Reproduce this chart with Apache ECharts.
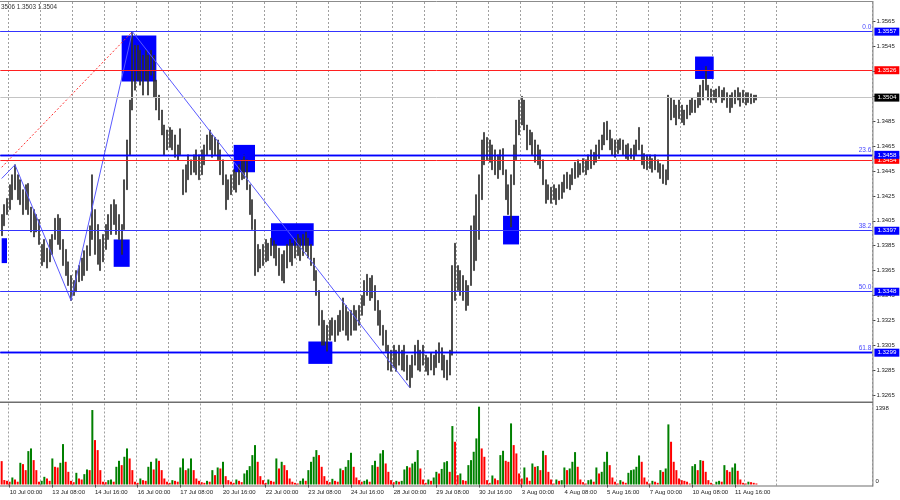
<!DOCTYPE html>
<html>
<head>
<meta charset="utf-8">
<script src="https://cdn.jsdelivr.net/npm/echarts@6/dist/echarts.min.js"></script>
<style>html,body{margin:0;padding:0;background:#fff;}#c{width:900px;height:500px;}</style>
</head>
<body>
<div id="c"></div>
<script>
// ---------- DATA ----------
// trading days shown on the H1 chart (2-hour buckets, first bucket = 9 Jul 18:00)
const days = ['9 Jul','10 Jul','13 Jul','14 Jul','15 Jul','16 Jul','17 Jul','20 Jul','21 Jul','22 Jul','23 Jul','24 Jul',
  '27 Jul','28 Jul','29 Jul','30 Jul','31 Jul','3 Aug','4 Aug','5 Aug','6 Aug','7 Aug','10 Aug','11 Aug','12 Aug','13 Aug','14 Aug','17 Aug'];

// lows / highs in pips above 1.3000 (one value per 2-hour bucket)
const lowPips = [
  393,401,410,
  414,422,430,422,418,410,414,410,396,392,396,386,
  369,372,367,372,378,390,386,382,369,361,353,341,
  345,348,356,357,361,365,377,390,378,370,365,372,
  382,390,394,402,394,390,378,398,430,458,494,510,
  518,514,506,518,506,522,504,494,486,474,458,462,
  464,462,456,454,458,426,428,438,442,444,442,438,
  442,450,458,462,456,458,454,442,434,414,422,426,
  430,428,434,438,439,430,410,398,361,364,367,369,
  372,373,377,375,369,361,357,355,367,372,369,375,
  377,373,377,380,375,369,357,345,321,305,305,300,
  309,313,308,313,316,317,313,309,313,317,317,321,
  329,337,345,341,343,333,321,313,305,300,285,284,
  287,284,289,285,284,277,271,279,289,285,284,289,
  284,281,285,281,287,291,285,279,277,281,297,341,
  349,345,341,333,337,353,365,373,390,422,450,454,
  452,446,442,439,446,442,422,410,400,434,454,474,
  482,478,462,466,458,452,450,447,434,419,422,419,
  422,418,422,423,428,431,430,434,439,440,442,444,
  442,446,447,450,452,455,462,466,470,462,458,456,
  459,462,458,455,454,455,454,458,462,450,447,446,
  447,444,446,444,439,435,434,438,486,488,482,487,
  484,482,487,490,492,492,496,498,502,510,502,500,
  502,500,504,500,502,496,492,496,499,502,497,500,
  498,500,499,500,502
];
const highPips = [
  410,418,423,
  434,442,450,442,438,430,434,435,416,414,410,406,
  386,390,383,390,394,407,410,407,390,382,372,361,
  357,365,369,375,381,385,401,442,414,402,390,394,
  402,410,418,422,418,410,402,438,470,502,557,546,
  546,542,538,542,538,542,538,518,506,494,482,478,
  480,478,474,466,479,446,450,458,454,458,462,458,
  462,466,474,478,474,472,470,462,454,442,438,442,
  446,444,450,454,458,454,434,422,406,386,382,386,
  390,387,391,389,386,383,378,381,386,390,387,391,
  394,391,394,396,391,386,375,365,349,333,325,321,
  325,327,325,329,333,343,337,332,333,337,333,337,
  345,357,362,359,361,353,341,333,321,317,305,301,
  305,301,305,301,305,297,289,297,305,309,301,305,
  297,295,299,297,301,307,303,297,293,301,369,387,
  369,365,361,357,353,401,409,426,442,470,476,472,
  470,466,462,458,462,463,446,434,442,466,486,502,
  505,502,482,478,476,470,466,462,454,438,434,432,
  434,431,434,436,442,444,442,447,452,454,451,455,
  454,458,462,460,466,470,474,484,485,478,471,470,
  470,471,470,466,467,463,466,470,480,466,459,458,
  458,455,458,454,451,450,446,506,504,502,498,502,
  498,494,498,502,504,502,508,514,518,529,514,511,
  510,511,513,510,512,508,506,508,510,512,508,510,
  508,508,507,506,506
];
// tick volume per bucket
const volumes = [
  420,80,66,50,126,90,50,390,366,258,600,648,438,258,50,
  66,138,108,66,468,318,306,390,726,408,228,66,42,210,108,
  90,186,270,258,1338,798,618,258,50,42,78,90,50,318,426,
  348,498,648,468,258,50,30,108,78,66,318,408,270,468,426,
  258,108,50,30,78,66,50,306,468,258,288,468,258,108,66,
  42,30,66,50,258,168,306,288,408,150,78,50,30,90,66,
  42,198,258,330,528,708,408,150,78,30,90,66,50,468,288,
  408,348,258,108,50,30,18,66,108,66,258,408,498,618,528,
  318,150,66,42,102,66,50,288,258,318,438,570,318,126,78,
  50,66,90,50,348,426,318,558,618,378,228,78,42,66,50,
  66,270,330,306,378,408,618,288,90,30,90,66,126,228,198,
  280,400,420,228,1050,
  768,168,198,78,66,348,438,588,828,1398,648,498,78,30,162,
  108,78,528,606,426,408,1098,708,558,198,108,306,126,66,378,
  318,330,258,606,528,228,90,18,90,66,78,306,258,288,408,
  582,318,90,42,18,78,90,50,306,198,228,408,588,348,126,
  50,18,78,50,30,210,258,270,318,522,408,126,50,18,66,
  50,30,258,228,288,1080,768,408,258,108,78,66,50,18,330,
  366,258,438,426,228,78,30,6,50,66,50,348,258,228,306,
  378,246,90,30,18,50,42,30,18
];
// zigzag turning points (bucket index, pips)
const zigzagIdx = [0, 5, 26, 49, 153];
const zigzagPips = [439, 450, 341, 557, 271];
// fibonacci base line (visible part)
const fibBaseIdx = [0, 49];
const fibBasePips = [448, 557];
// fibonacci levels
const fibNames = ['0.0', '23.6', '38.2', '50.0', '61.8'];
const fibPrices = [1.3557, 1.3458, 1.3397, 1.3348, 1.3299];
// red horizontal levels and the current bid
const redLevels = [1.3526, 1.3454];
const lastPrice = 1.3504;
// rectangles: [fromIndex, toIndex, topPips, bottomPips]
const boxes = [
  [0, 2, 391, 371], [42, 48, 390, 368], [45, 58, 554, 517], [87, 95, 466, 444],
  [101, 117, 403, 385], [115, 124, 308, 290], [188, 194, 409, 386], [260, 267, 537, 519]
];
const headerText = '3506 1.3503 1.3504';
const volMax = 1398;
const priceMin = 1.3265, priceMax = 1.3565, priceStep = 0.002;

// ---------- BUILD ----------
const N = 327;
const cats = [];
for (let i = 0; i < N; i++) {
  const d = Math.floor((i + 9) / 12), h = (18 + 2 * i) % 24;
  cats.push(days[d] + ' ' + String(h).padStart(2, '0') + ':00');
}
const hourOf = i => (18 + 2 * i) % 24;
const isDayStart = i => hourOf(i) === 0 && i <= 291;
const isLabel = i => i >= 3 && i <= 283 && (i - 3) % 16 === 0;
const px = p => +(1.3 + p / 10000).toFixed(5);

const candles = lowPips.map((l, i) => [px(l), px(highPips[i]), px(l), px(highPips[i])]);
const FONT = 'Liberation Sans, Arial, sans-serif';
const L = 0.33, R = 27.6;

const lineItems = [];
const priceLabel = (bg) => ({
  show: true, position: 'end', distance: 2, formatter: p => Number(p.value).toFixed(4),
  color: '#fff', backgroundColor: bg, fontSize: 6.2, fontFamily: FONT,
  padding: [1, 3, 0, 3], lineHeight: 7
});
lineItems.push({ yAxis: lastPrice, lineStyle: { color: '#c4c4c4', width: 1, type: 'solid' }, label: priceLabel('#000') });
redLevels.forEach(v => lineItems.push({ yAxis: v, lineStyle: { color: '#ff2020', width: 1, type: 'solid' }, label: priceLabel('#ff0000') }));
fibPrices.forEach((v, k) => {
  const strong = (fibNames[k] === '23.6' || fibNames[k] === '61.8');
  const ls = { color: strong ? '#0000ff' : '#3434ff', width: strong ? 1.4 : 1, type: 'solid' };
  lineItems.push({ yAxis: v, lineStyle: ls, label: {
    show: true, position: 'insideEndTop', distance: 1, formatter: fibNames[k],
    color: '#4848ff', fontSize: 6.5, fontFamily: FONT } });
  lineItems.push({ yAxis: v, lineStyle: ls, label: priceLabel('#0000ff') });
});

const option = {
  animation: false,
  backgroundColor: '#fff',
  title: { text: headerText, left: 1, top: 4, padding: 0,
    textStyle: { fontSize: 6.3, fontWeight: 'normal', color: '#333', fontFamily: FONT } },
  grid: [
    { left: L, right: R, top: 21.7, bottom: 105 },
    { left: L, right: R, top: 406.7, bottom: 15.5 },
    { left: L, right: R, top: 2, bottom: 98 },
    { left: L, right: R, top: 403.5, bottom: 14 }
  ],
  xAxis: [0, 1, 2, 3].map(g => ({
    type: 'category', gridIndex: g, data: cats, boundaryGap: true,
    axisLine: { show: false },
    axisTick: g === 1 ? { show: true, interval: (i) => isLabel(i), alignWithLabel: true, length: 3, lineStyle: { color: '#333' } } : { show: false },
    axisLabel: g === 1 ? { show: true, interval: (i) => isLabel(i), align: 'left', margin: 5,
      fontSize: 6, color: '#222', fontFamily: FONT } : { show: false },
    splitLine: (g >= 2) ? { show: true, interval: (i) => isDayStart(i),
      lineStyle: { color: '#a0a0a0', width: 1, type: [2, 2] } } : { show: false }
  })),
  yAxis: [
    { type: 'value', gridIndex: 0, position: 'right', min: priceMin, max: priceMax, interval: priceStep,
      axisLine: { show: false }, splitLine: { show: false },
      axisTick: { show: true, length: 3, lineStyle: { color: '#444' } },
      axisLabel: { margin: 4, fontSize: 6, color: '#222', fontFamily: FONT, formatter: v => v.toFixed(4) } },
    { type: 'value', gridIndex: 1, position: 'right', min: 0, max: volMax, interval: volMax,
      axisLine: { show: false }, splitLine: { show: false }, axisTick: { show: false },
      axisLabel: { margin: 3, fontSize: 6, color: '#222', fontFamily: FONT,
        formatter: v => v === 0 ? '{b|0}' : '{t|' + v + '}',
        rich: { b: { padding: [0, 0, 6, 0], fontSize: 6, color: '#222' }, t: { padding: [4, 0, 0, 0], fontSize: 6, color: '#222' } } } },
    { type: 'value', gridIndex: 2, show: false, min: 0, max: 1 },
    { type: 'value', gridIndex: 3, show: false, min: 0, max: 1 }
  ],
  series: [
    { type: 'line', name: 'boxes', xAxisIndex: 0, yAxisIndex: 0, data: [], z: 1, silent: true,
      markArea: { silent: true, itemStyle: { color: '#0000ff', opacity: 1 },
        data: boxes.map(b => [{ coord: [b[0], px(b[2])] }, { coord: [b[1], px(b[3])] }]) } },
    { type: 'candlestick', name: 'price', xAxisIndex: 0, yAxisIndex: 0, data: candles, z: 2,
      barWidth: 1.6,
      itemStyle: { color: '#2e2e2e', color0: '#2e2e2e', borderColor: '#2e2e2e', borderColor0: '#2e2e2e', borderWidth: 0.7 } },
    { type: 'line', name: 'zigzag', xAxisIndex: 0, yAxisIndex: 0, z: 3, symbol: 'none', silent: true,
      data: zigzagIdx.map((x, k) => [x, px(zigzagPips[k])]),
      lineStyle: { color: '#5a5aff', width: 1 } },
    { type: 'line', name: 'fibBase', xAxisIndex: 0, yAxisIndex: 0, z: 3, symbol: 'none', silent: true,
      data: fibBaseIdx.map((x, k) => [x, px(fibBasePips[k])]),
      lineStyle: { color: '#ff3030', width: 1, type: [2, 2] } },
    { type: 'line', name: 'levels', xAxisIndex: 0, yAxisIndex: 0, data: [], z: 5, silent: true,
      markLine: { silent: true, precision: 4, symbol: ['none', 'none'], animation: false, data: lineItems } },
    { type: 'bar', name: 'volume', xAxisIndex: 1, yAxisIndex: 1, data: volumes, barWidth: 2, z: 2,
      itemStyle: { color: p => (p.dataIndex > 0 && volumes[p.dataIndex] > volumes[p.dataIndex - 1]) ? '#008000' : '#ff0000' } }
  ],
  graphic: [
    { type: 'line', shape: { x1: 0, y1: 1.5, x2: 873, y2: 1.5 }, style: { stroke: '#8c8c8c', lineWidth: 1 }, z: 10 },
    { type: 'line', shape: { x1: 872.9, y1: 1, x2: 872.9, y2: 486.5 }, style: { stroke: '#8c8c8c', lineWidth: 1.2 }, z: 10 },
    { type: 'line', shape: { x1: 0, y1: 402.3, x2: 873, y2: 402.3 }, style: { stroke: '#6e6e6e', lineWidth: 1.6 }, z: 10 },
    { type: 'line', shape: { x1: 0, y1: 486, x2: 873, y2: 486 }, style: { stroke: '#6e6e6e', lineWidth: 1.2 }, z: 10 }
  ]
};
const chart = echarts.init(document.getElementById('c'), null, { renderer: 'canvas' });
chart.setOption(option);
</script>
</body>
</html>
